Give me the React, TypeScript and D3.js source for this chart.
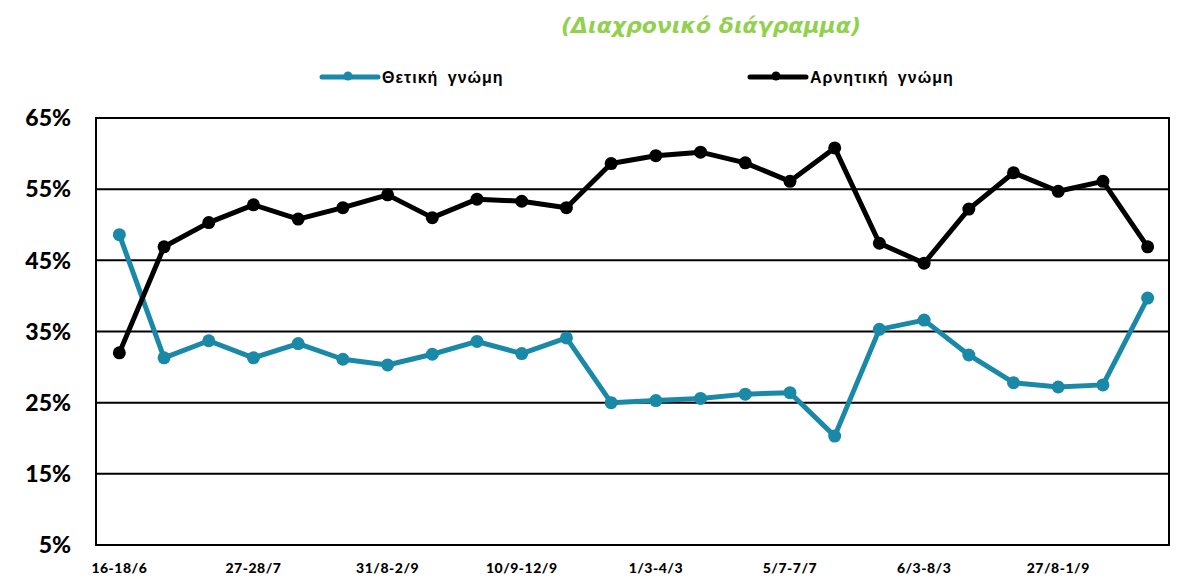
import React, { useEffect, useRef } from "react";
import * as d3 from "d3";

const labels = [
  "16-18/6", "", "", "27-28/7", "", "", "31/8-2/9", "", "", "10/9-12/9", "", "",
  "1/3-4/3", "", "", "5/7-7/7", "", "", "6/3-8/3", "", "", "27/8-1/9", "", "",
];
const positive = [
  48.6, 31.3, 33.7, 31.3, 33.3, 31.1, 30.3, 31.8, 33.6, 31.9, 34.1, 25.0,
  25.3, 25.6, 26.2, 26.4, 20.3, 35.3, 36.6, 31.7, 27.8, 27.2, 27.5, 39.7,
];
const negative = [
  32.0, 46.9, 50.3, 52.8, 50.8, 52.4, 54.2, 51.0, 53.6, 53.3, 52.4, 58.6,
  59.7, 60.2, 58.7, 56.1, 60.8, 47.4, 44.6, 52.2, 57.3, 54.7, 56.1, 46.9,
];
const yTicks = [5, 15, 25, 35, 45, 55, 65];

const TEAL = "#1a88a7";
const title = "(Διαχρονικό διάγραμμα)";

export default function App() {
  const ref = useRef<SVGSVGElement>(null);

  useEffect(() => {
    const svg = d3.select(ref.current);
    svg.selectAll("*").remove();
    const left = 96, right = 1169, top = 118, bottom = 545;

    const x = d3.scaleBand<number>()
      .domain(d3.range(labels.length))
      .range([left, right]);
    const y = d3.scaleLinear().domain([5, 65]).range([bottom, top]);
    const cx = (i: number) => (x(i) as number) + x.bandwidth() / 2 + 1;

    svg.append("text")
      .attr("x", 711)
      .attr("y", 33)
      .attr("text-anchor", "middle")
      .style("font-family", "'DejaVu Sans', sans-serif")
      .style("font-weight", "700")
      .style("font-style", "italic")
      .style("font-size", "22px")
      .attr("fill", "#92d050")
      .text(title);

    // grid
    svg.append("g")
      .selectAll("line")
      .data(yTicks)
      .enter()
      .append("line")
      .attr("x1", left)
      .attr("x2", right)
      .attr("y1", (d) => y(d))
      .attr("y2", (d) => y(d))
      .attr("stroke", "#000")
      .attr("stroke-width", 2);

    svg.append("rect")
      .attr("x", left)
      .attr("y", top)
      .attr("width", right - left)
      .attr("height", bottom - top)
      .attr("fill", "none")
      .attr("stroke", "#000")
      .attr("stroke-width", 2);

    svg.append("g")
      .selectAll("text")
      .data(yTicks)
      .enter()
      .append("text")
      .attr("x", 71)
      .attr("y", (d) => y(d))
      .attr("dy", "0.36em")
      .attr("text-anchor", "end")
      .style("font-family", "Lato, sans-serif")
      .style("font-weight", "900")
      .style("font-size", "23px")
      .text((d) => `${d}%`);

    svg.append("g")
      .selectAll("text")
      .data(labels.map((l, i) => ({ l, i })).filter((d) => d.l !== ""))
      .enter()
      .append("text")
      .attr("x", (d) => cx(d.i))
      .attr("y", 573)
      .attr("text-anchor", "middle")
      .style("font-family", "Lato, sans-serif")
      .style("font-weight", "900")
      .style("font-size", "14px")
      .style("letter-spacing", "0.5px")
      .text((d) => d.l);

    const series = [
      { name: "Θετική γνώμη", values: positive, color: TEAL, lx: 322 },
      { name: "Αρνητική γνώμη", values: negative, color: "#000", lx: 750 },
    ];

    for (const s of series) {
      const line = d3.line<number>()
        .x((_, i) => cx(i))
        .y((d) => y(d));
      svg.append("path")
        .datum(s.values)
        .attr("fill", "none")
        .attr("stroke", s.color)
        .attr("stroke-width", 5)
        .attr("stroke-linejoin", "round")
        .attr("d", line);
      svg.append("g")
        .selectAll("circle")
        .data(s.values)
        .enter()
        .append("circle")
        .attr("cx", (_, i) => cx(i))
        .attr("cy", (d) => y(d))
        .attr("r", 6.5)
        .attr("fill", s.color);

      // legend
      svg.append("line")
        .attr("x1", s.lx)
        .attr("x2", s.lx + 56)
        .attr("y1", 77)
        .attr("y2", 77)
        .attr("stroke", s.color)
        .attr("stroke-width", 5)
        .attr("stroke-linecap", "round");
      svg.append("circle")
        .attr("cx", s.lx + 26)
        .attr("cy", 76)
        .attr("r", 4.5)
        .attr("fill", s.color);
      svg.append("text")
        .attr("x", s.lx + 60)
        .attr("y", 83)
        .style("font-family", "'Liberation Sans', Arial, sans-serif")
        .style("font-weight", "700")
        .style("font-size", "16px")
        .style("letter-spacing", "1px")
        .attr("word-spacing", "4px")
        .text(s.name);
    }
  }, []);

  return (
    <svg
      ref={ref}
      width={1178}
      height={579}
      style={{ position: "absolute", left: 0, top: 0, background: "#fff" }}
    />
  );
}
